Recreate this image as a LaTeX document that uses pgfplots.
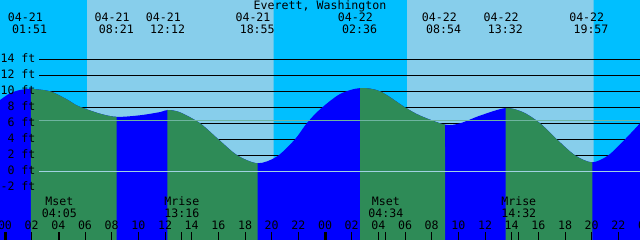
\documentclass[border=0pt]{standalone}
\usepackage{fontspec}
\setmainfont{DejaVu Sans Mono}
\usepackage{pgfplots}
\pgfplotsset{compat=1.18}
\usepgfplotslibrary{fillbetween}
\definecolor{nightsky}{RGB}{0,191,255}
\definecolor{daysky}{RGB}{135,206,235}
\definecolor{rise}{RGB}{0,0,255}
\definecolor{fall}{RGB}{46,139,87}
\definecolor{msl}{RGB}{110,180,160}
\definecolor{zeroline}{RGB}{160,210,225}
\begin{document}
\begin{tikzpicture}[every node/.append style={font=\fontsize{11.6pt}{13pt}\selectfont, inner sep=0pt}, fill between/on layer=main]
\begin{axis}[scale only axis, width=640pt, height=240pt,
  xmin=-0.375, xmax=47.625, ymin=-8.59, ymax=21.41,
  axis line style={draw=none}, xtick=\empty, ytick=\empty,
  axis background/.style={fill=nightsky}]
% daylight bands
\addplot[fill=daysky, draw=none] coordinates {(6.15,-8.59) (6.15,21.41) (20.15,21.41) (20.15,-8.59)} \closedcycle;
\addplot[fill=daysky, draw=none] coordinates {(30.15,-8.59) (30.15,21.41) (44.15,21.41) (44.15,-8.59)} \closedcycle;
% black level lines
\pgfplotsinvokeforeach{-2,0,2,4,6,8,10,12,14}{
  \addplot[black, line width=1pt] coordinates {(2.55,#1) (47.625,#1)};
}
% tide curve
\addplot[name path=tide, draw=none, smooth] coordinates {
(-0.375,8.9) (0.375,9.75) (1.125,10.16) (1.9,10.3) (3.375,10.0) (4.63,9.0) (5.5,8.15) (7.125,7.2) (8.4,6.8) (10.125,7.0) (11.625,7.4) (12.2,7.66) (13.125,7.37) (14.63,6.0) (16.0,4.0) (17.42,2.0) (18.95,1.0) (20.38,1.83) (21.75,4.0) (22.63,6.0) (23.63,7.75) (25.13,9.66) (26.63,10.4) (28.13,10.0) (30.0,8.0) (31.13,6.96) (33.0,5.83) (34.13,6.0) (35.63,6.96) (37.55,7.9) (38.87,7.37) (40.13,6.0) (41.38,4.0) (42.75,2.0) (44.03,1.12) (45.25,2.0) (46.5,4.0) (47.63,6.0)
};
\addplot[name path=bot, draw=none] coordinates {(-0.375,-8.59) (47.625,-8.59)};
\addplot[fill=rise, draw=none] fill between[of=tide and bot];
\addplot[fill=fall, draw=none] fill between[of=tide and bot, soft clip={domain=1.95:8.38}];
\addplot[fill=fall, draw=none] fill between[of=tide and bot, soft clip={domain=12.17:18.95}];
\addplot[fill=fall, draw=none] fill between[of=tide and bot, soft clip={domain=26.63:33.0}];
\addplot[fill=fall, draw=none] fill between[of=tide and bot, soft clip={domain=37.55:44.05}];
% mean level and datum lines
\addplot[msl, line width=1pt] coordinates {(2.55,6.375) (47.625,6.375)};
\addplot[zeroline, line width=1pt] coordinates {(2.55,0) (47.625,0)};
% ticks
\pgfplotsinvokeforeach{2,4,6,8,10,12,14,16,18,20,22,26,28,30,32,34,36,38,40,42,44,46,4.083,13.267,28.567,38.533}{
  \addplot[black, line width=1pt] coordinates {(#1,-8.59) (#1,-7.59)};
}
\addplot[black, line width=3pt] coordinates {(0,-8.59) (0,-7.59)};
\addplot[black, line width=3pt] coordinates {(24,-8.59) (24,-7.59)};
% title
\node[anchor=base] at (axis cs:23.63,20.16) {Everett, Washington};
% tide labels
\node[anchor=base] at (axis cs:1.53,18.70) {04-21};  \node[anchor=base] at (axis cs:1.85,17.25) {01:51};
\node[anchor=base] at (axis cs:8.03,18.70) {04-21};  \node[anchor=base] at (axis cs:8.35,17.25) {08:21};
\node[anchor=base] at (axis cs:11.88,18.70) {04-21}; \node[anchor=base] at (axis cs:12.2,17.25) {12:12};
\node[anchor=base] at (axis cs:18.60,18.70) {04-21}; \node[anchor=base] at (axis cs:18.917,17.25) {18:55};
\node[anchor=base] at (axis cs:26.28,18.70) {04-22}; \node[anchor=base] at (axis cs:26.6,17.25) {02:36};
\node[anchor=base] at (axis cs:32.58,18.70) {04-22}; \node[anchor=base] at (axis cs:32.9,17.25) {08:54};
\node[anchor=base] at (axis cs:37.21,18.70) {04-22}; \node[anchor=base] at (axis cs:37.533,17.25) {13:32};
\node[anchor=base] at (axis cs:43.63,18.70) {04-22}; \node[anchor=base] at (axis cs:43.95,17.25) {19:57};
% level labels
\node[anchor=base east] at (axis cs:2.3,13.57) {14 ft};
\node[anchor=base east] at (axis cs:2.3,11.57) {12 ft};
\node[anchor=base east] at (axis cs:2.3,9.57) {10 ft};
\node[anchor=base east] at (axis cs:2.3,7.57) {8 ft};
\node[anchor=base east] at (axis cs:2.3,5.57) {6 ft};
\node[anchor=base east] at (axis cs:2.3,3.57) {4 ft};
\node[anchor=base east] at (axis cs:2.3,1.57) {2 ft};
\node[anchor=base east] at (axis cs:2.3,-0.43) {0 ft};
\node[anchor=base east] at (axis cs:2.3,-2.43) {-2 ft};
% moon labels
\node[anchor=base] at (axis cs:4.083,-4.34) {Mset};   \node[anchor=base] at (axis cs:4.083,-5.75) {04:05};
\node[anchor=base] at (axis cs:13.267,-4.34) {Mrise}; \node[anchor=base] at (axis cs:13.267,-5.75) {13:16};
\node[anchor=base] at (axis cs:28.567,-4.34) {Mset};  \node[anchor=base] at (axis cs:28.567,-5.75) {04:34};
\node[anchor=base] at (axis cs:38.533,-4.34) {Mrise}; \node[anchor=base] at (axis cs:38.533,-5.75) {14:32};
% hour labels
\node[anchor=base] at (axis cs:0,-7.25) {00};
\node[anchor=base] at (axis cs:2,-7.25) {02};
\node[anchor=base] at (axis cs:4,-7.25) {04};
\node[anchor=base] at (axis cs:6,-7.25) {06};
\node[anchor=base] at (axis cs:8,-7.25) {08};
\node[anchor=base] at (axis cs:10,-7.25) {10};
\node[anchor=base] at (axis cs:12,-7.25) {12};
\node[anchor=base] at (axis cs:14,-7.25) {14};
\node[anchor=base] at (axis cs:16,-7.25) {16};
\node[anchor=base] at (axis cs:18,-7.25) {18};
\node[anchor=base] at (axis cs:20,-7.25) {20};
\node[anchor=base] at (axis cs:22,-7.25) {22};
\node[anchor=base] at (axis cs:24,-7.25) {00};
\node[anchor=base] at (axis cs:26,-7.25) {02};
\node[anchor=base] at (axis cs:28,-7.25) {04};
\node[anchor=base] at (axis cs:30,-7.25) {06};
\node[anchor=base] at (axis cs:32,-7.25) {08};
\node[anchor=base] at (axis cs:34,-7.25) {10};
\node[anchor=base] at (axis cs:36,-7.25) {12};
\node[anchor=base] at (axis cs:38,-7.25) {14};
\node[anchor=base] at (axis cs:40,-7.25) {16};
\node[anchor=base] at (axis cs:42,-7.25) {18};
\node[anchor=base] at (axis cs:44,-7.25) {20};
\node[anchor=base] at (axis cs:46,-7.25) {22};
\node[anchor=base] at (axis cs:48,-7.25) {00};
\end{axis}
\pgfresetboundingbox
\useasboundingbox (current axis.south west) rectangle (current axis.north east);
\end{tikzpicture}
\end{document}
